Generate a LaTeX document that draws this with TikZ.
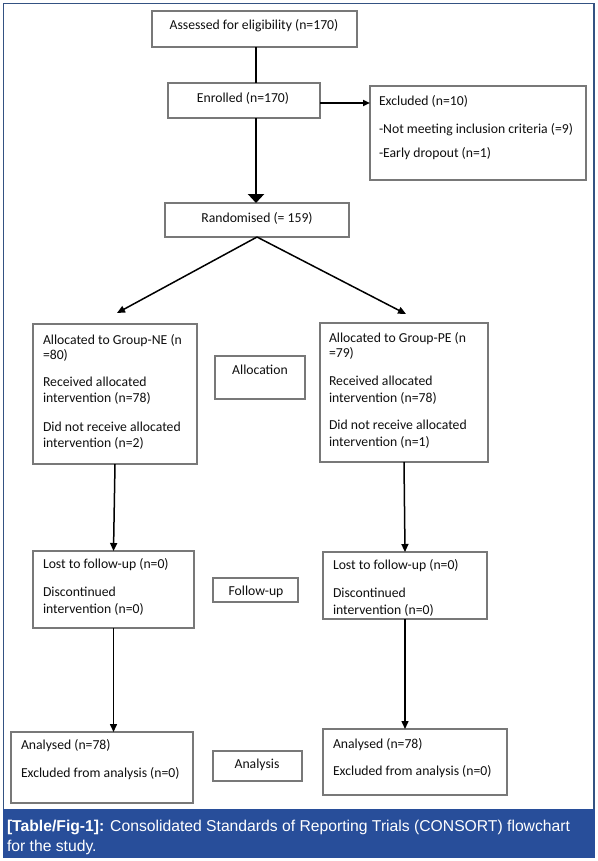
\documentclass[tikz,border=0pt]{standalone}
\usepackage{fontspec}
\setmainfont{Carlito}
\newfontfamily\capfont{Liberation Sans}
\usetikzlibrary{arrows.meta}
\definecolor{capblue}{RGB}{40,78,154}
\definecolor{frameblue}{RGB}{52,82,130}
\definecolor{boxgray}{RGB}{120,120,120}
\definecolor{txtcol}{RGB}{15,15,15}
\begin{document}
\begin{tikzpicture}[x=1bp,y=-1bp,
  every node/.style={inner sep=0pt,outer sep=0pt},
  box/.style={draw=boxgray,line width=1.1bp,anchor=north west},
  txt/.style={anchor=base west,text=txtcol,font=\fontsize{13.7bp}{16bp}\selectfont},
  ctxt/.style={anchor=base,text=txtcol,font=\fontsize{13.7bp}{16bp}\selectfont},
  conn/.style={draw=black,line width=1.5bp,-{Triangle[length=8bp,width=7bp]}},
  heavy/.style={draw=black,line width=2.4bp},
  captxt/.style={anchor=base west,text=white,font=\capfont\fontsize{15.7bp}{19bp}\selectfont}
]
\useasboundingbox (0,0) rectangle (598,861);
\fill[white] (0,0) rectangle (598,861);

% frame and caption band
\draw[frameblue,line width=1.4bp] (3.7,3.7) rectangle (593.8,810);
\node[fill=capblue,minimum width=592bp,minimum height=49bp,anchor=north west] (capband) at (3,809) {};
\node[captxt] (cap1) at (7,831) {\textbf{[Table/Fig-1]:} Consolidated Standards of Reporting Trials (CONSORT) flowchart};
\node[captxt] (cap2) at (7,851) {for the study.};

% boxes
\node[box,minimum width=205bp,minimum height=36bp] (assess) at (152,11) {};
\node[box,minimum width=152bp,minimum height=35bp] (enrolled) at (168,83) {};
\node[box,minimum width=216bp,minimum height=94bp] (excluded) at (370,86) {};
\node[box,minimum width=184bp,minimum height=34bp] (rand) at (165,203) {};
\node[box,minimum width=164bp,minimum height=140bp] (allocL) at (33,324) {};
\node[box,minimum width=90bp,minimum height=43bp] (allocLab) at (215,356) {};
\node[box,minimum width=168bp,minimum height=139bp] (allocR) at (320,323) {};
\node[box,minimum width=161bp,minimum height=77bp] (followL) at (33,551) {};
\node[box,minimum width=85bp,minimum height=24bp] (followLab) at (213,578) {};
\node[box,minimum width=164bp,minimum height=67bp] (followR) at (323,552) {};
\node[box,minimum width=182bp,minimum height=71bp] (anaL) at (11,732) {};
\node[box,minimum width=89bp,minimum height=30bp] (anaLab) at (213,751) {};
\node[box,minimum width=184bp,minimum height=66bp] (anaR) at (323,729) {};

% texts
\node[ctxt] (tassess) at (254,29.5) {Assessed for eligibility (n=170)};
\node[ctxt] (tenrolled) at (243,102) {Enrolled (n=170)};
\node[txt] (tex1) at (379,105) {Excluded (n=10)};
\node[txt] (tex2) at (379,133) {-Not meeting inclusion criteria (=9)};
\node[txt] (tex3) at (379,157) {-Early dropout (n=1)};
\node[ctxt] (trand) at (257,222) {Randomised (= 159)};

\node[txt] (taL1) at (43,344) {Allocated to Group-NE (n};
\node[txt] (taL2) at (43,359) {=80)};
\node[txt] (taL3) at (43,386) {Received allocated};
\node[txt] (taL4) at (43,402) {intervention (n=78)};
\node[txt] (taL5) at (43,431) {Did not receive allocated};
\node[txt] (taL6) at (43,447) {intervention (n=2)};
\node[ctxt] (tallocLab) at (260,374) {Allocation};
\node[txt] (taR1) at (329,342) {Allocated to Group-PE (n};
\node[txt] (taR2) at (329,357) {=79)};
\node[txt] (taR3) at (329,385) {Received allocated};
\node[txt] (taR4) at (329,402) {intervention (n=78)};
\node[txt] (taR5) at (329,429) {Did not receive allocated};
\node[txt] (taR6) at (329,446) {intervention (n=1)};

\node[txt] (tfL1) at (43,568) {Lost to follow-up (n=0)};
\node[txt] (tfL2) at (43,596) {Discontinued};
\node[txt] (tfL3) at (43,613) {intervention (n=0)};
\node[ctxt] (tfollowLab) at (256,595) {Follow-up};
\node[txt] (tfR1) at (333,569) {Lost to follow-up (n=0)};
\node[txt] (tfR2) at (333,597) {Discontinued};
\node[txt] (tfR3) at (333,614) {intervention (n=0)};

\node[txt] (tnL1) at (21,749) {Analysed (n=78)};
\node[txt] (tnL2) at (21,777) {Excluded from analysis (n=0)};
\node[ctxt] (tanaLab) at (257,768) {Analysis};
\node[txt] (tnR1) at (333,748) {Analysed (n=78)};
\node[txt] (tnR2) at (333,775) {Excluded from analysis (n=0)};

% connectors
\coordinate (tipL) at (117,313);
\coordinate (tipR) at (406,314);
\draw[heavy] ([xshift=1.5bp]assess.south) -- ([xshift=1.5bp]assess.south |- enrolled.north);
\draw[heavy,-{Triangle[length=9bp,width=16bp]}] ([xshift=1.5bp]assess.south |- enrolled.south) -- ([xshift=1.5bp]assess.south |- rand.north);
\draw[conn,line width=2bp,-{Triangle[length=7bp,width=6bp]}] ([yshift=-2.5bp]enrolled.east) -- ([yshift=-2.5bp]enrolled.east -| excluded.west);
\draw[conn] (rand.south) -- (tipL);
\draw[conn] (rand.south) -- (tipR);
\draw[conn] (allocL.south) -- (followL.north);
\draw[conn] (allocR.south) -- (followR.north);
\draw[conn] (followL.south) -- (followL.south |- anaL.north);
\draw[conn] (followR.south) -- (followR.south |- anaR.north);
\end{tikzpicture}
\end{document}
